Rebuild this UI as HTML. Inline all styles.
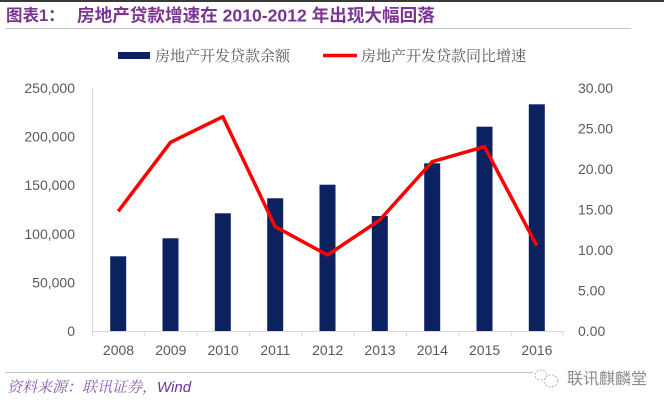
<!DOCTYPE html>
<html><head><meta charset="utf-8"><style>
html,body{margin:0;padding:0;background:#fff;}
body{width:664px;height:405px;overflow:hidden;position:relative;}
svg{display:block;}
</style></head><body>
<svg width="664" height="405" viewBox="0 0 664 405" xmlns="http://www.w3.org/2000/svg">
<rect x="0" y="0" width="664" height="2" fill="#3a3a3a"/>
<text x="6" y="21" font-family="Liberation Sans, Noto Sans CJK SC, sans-serif" font-size="16.5" font-weight="bold" fill="#7a3592">图表1：</text>
<text x="77" y="21.5" font-family="Liberation Sans, Noto Sans CJK SC, sans-serif" font-size="17.6" font-weight="bold" fill="#7a3592">房地产贷款增速在 2010-2012 年出现大幅回落</text>
<line x1="5" y1="28.5" x2="631" y2="28.5" stroke="#c4c4c4" stroke-width="1"/>

<!-- legend -->
<rect x="118" y="52" width="32" height="7" fill="#0b2160"/>
<text x="155" y="61" font-family="Liberation Serif, Noto Serif CJK SC, serif" font-size="15" fill="#595959">房地产开发贷款余额</text>
<line x1="323" y1="55.5" x2="357" y2="55.5" stroke="#ff0000" stroke-width="3.5"/>
<text x="361" y="61" font-family="Liberation Serif, Noto Serif CJK SC, serif" font-size="15" fill="#595959">房地产开发贷款同比增速</text>

<!-- axes -->
<line x1="92.5" y1="88" x2="92.5" y2="331" stroke="#d9d9d9" stroke-width="1"/>
<line x1="92" y1="331.5" x2="563" y2="331.5" stroke="#d9d9d9" stroke-width="1"/>
<g stroke="#d9d9d9" stroke-width="1">
<line x1="92.5" y1="331" x2="92.5" y2="336"/>
<line x1="144.8" y1="331" x2="144.8" y2="336"/>
<line x1="197.2" y1="331" x2="197.2" y2="336"/>
<line x1="249.5" y1="331" x2="249.5" y2="336"/>
<line x1="301.8" y1="331" x2="301.8" y2="336"/>
<line x1="354.2" y1="331" x2="354.2" y2="336"/>
<line x1="406.5" y1="331" x2="406.5" y2="336"/>
<line x1="458.8" y1="331" x2="458.8" y2="336"/>
<line x1="511.2" y1="331" x2="511.2" y2="336"/>
<line x1="563" y1="331" x2="563" y2="336"/>
</g>

<!-- left labels -->
<g font-family="Liberation Sans, sans-serif" font-size="14" fill="#595959" text-anchor="end">
<text x="75" y="93">250,000</text>
<text x="75" y="141.6">200,000</text>
<text x="75" y="190.2">150,000</text>
<text x="75" y="238.8">100,000</text>
<text x="75" y="287.4">50,000</text>
<text x="75" y="336">0</text>
</g>
<!-- right labels -->
<g font-family="Liberation Sans, sans-serif" font-size="14" fill="#595959">
<text x="578" y="93">30.00</text>
<text x="578" y="133.5">25.00</text>
<text x="578" y="174">20.00</text>
<text x="578" y="214.5">15.00</text>
<text x="578" y="255">10.00</text>
<text x="578" y="295.5">5.00</text>
<text x="578" y="336">0.00</text>
</g>

<!-- bars -->
<g fill="#0b2160">
<rect x="110.2" y="256.3" width="16" height="74.7"/>
<rect x="162.5" y="238.3" width="16" height="92.7"/>
<rect x="214.8" y="213.3" width="16" height="117.7"/>
<rect x="267.2" y="198.3" width="16" height="132.7"/>
<rect x="319.5" y="184.7" width="16" height="146.3"/>
<rect x="371.8" y="216" width="16" height="115"/>
<rect x="424.2" y="163.3" width="16" height="167.7"/>
<rect x="476.5" y="126.7" width="16" height="204.3"/>
<rect x="528.8" y="104.3" width="16" height="226.7"/>
</g>

<!-- line -->
<polyline fill="none" stroke="#ff0000" stroke-width="3.5" stroke-linejoin="round" points="118.2,211.3 170.5,142.3 222.8,116.7 275.2,226.7 327.5,255 379.8,220 432.2,161.7 484.5,146.7 536.8,245.7"/>

<!-- year labels -->
<g font-family="Liberation Sans, sans-serif" font-size="14" fill="#595959" text-anchor="middle">
<text x="118.5" y="355">2008</text>
<text x="170.8" y="355">2009</text>
<text x="223.1" y="355">2010</text>
<text x="275.4" y="355">2011</text>
<text x="327.7" y="355">2012</text>
<text x="380" y="355">2013</text>
<text x="432.3" y="355">2014</text>
<text x="484.6" y="355">2015</text>
<text x="536.9" y="355">2016</text>
</g>

<!-- footer -->
<line x1="5" y1="372.5" x2="533" y2="372.5" stroke="#c4c4c4" stroke-width="1"/>
<text x="7" y="392" font-family="Liberation Serif, Noto Serif CJK SC, serif" font-size="15" font-style="italic" fill="#8b5aa8">资料来源：联讯证券，<tspan font-family="Liberation Sans, sans-serif" fill="#7030a0">Wind</tspan></text>
<g fill="none" stroke="#b5b5b5" stroke-width="1" stroke-dasharray="2,1.5">
<ellipse cx="541" cy="375" rx="6" ry="5"/>
<ellipse cx="551" cy="381" rx="7" ry="6"/>
</g>
<text x="567" y="384" font-family="Liberation Sans, Noto Sans CJK SC, sans-serif" font-size="16" fill="#8a8a8a">联讯麒麟堂</text>
</svg>
</body></html>
